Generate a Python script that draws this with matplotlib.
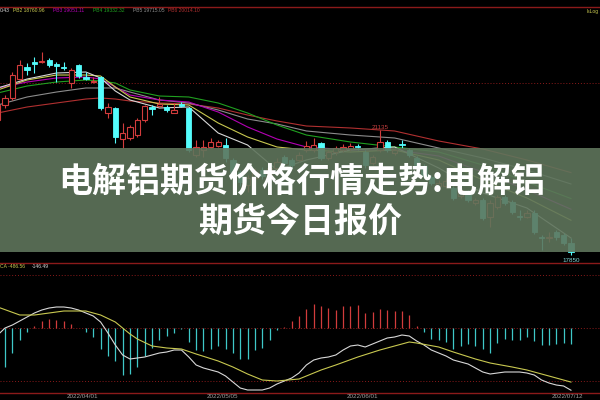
import matplotlib
matplotlib.use("Agg")
import matplotlib.pyplot as plt
from matplotlib.patches import Rectangle

# daily candles (index 0 is partly cut off at the left edge)
opens = [21400, 21790, 21980, 22480, 22790, 22920, 22920, 22980, 22870, 22790,
         22370, 22840, 22530, 22400, 22530, 21580, 21710, 20900, 20920, 21000,
         21400, 21740, 21770, 21740, 21580, 21820, 21710, 20480, 20610, 20690,
         20710, 20740, 20350, 20030, 19690, 19870, 20080, 19930, 20140, 20430,
         20350, 20350, 20610, 20610, 20790, 20400, 20560, 20610, 20640, 20710,
         20560, 20270, 20610, 20820, 20530, 20770, 20610, 20400, 20190, 19900,
         19660, 19660, 19610, 19400, 19500, 19220, 19290, 18850, 19110, 19370,
         19240, 18870, 18850, 18950, 18320, 18300, 18450, 18370, 18160]
highs = [21920, 22055, 22660, 22980, 22900, 23055, 23190, 23030, 22920, 22920,
         22770, 22870, 22660, 22530, 22550, 21850, 21740, 21320, 21270, 21450,
         21790, 21790, 22000, 21790, 21850, 21870, 21740, 20870, 20870, 20930,
         20870, 20930, 20400, 20080, 19950, 20140, 20160, 20190, 20400, 20480,
         20400, 20560, 20850, 20930, 20820, 20610, 20710, 20770, 20790, 20770,
         20610, 20480, 21135, 20870, 20660, 20870, 20660, 20450, 20240, 19950,
         19820, 19870, 19660, 19610, 19560, 19350, 19350, 19290, 19430, 19430,
         19290, 19030, 19030, 19030, 18370, 18450, 18500, 18430, 18300]
lows = [21270, 21710, 21920, 22450, 22580, 22630, 22900, 22790, 22400, 22710,
        22240, 22500, 22450, 22370, 21660, 21450, 20790, 20660, 20870, 20950,
        21350, 21530, 21740, 21610, 21580, 21740, 20560, 20430, 20430, 20660,
        20690, 20290, 19930, 19660, 19500, 19770, 19850, 19870, 20080, 20190,
        20140, 20290, 20560, 20560, 20350, 20350, 20480, 20560, 20580, 20610,
        20140, 20210, 20560, 20560, 20480, 20660, 20430, 20160, 19870, 19690,
        19560, 19610, 19290, 19350, 19240, 19160, 18770, 18580, 19060, 19160,
        18930, 18770, 18820, 18400, 17980, 18190, 18240, 18110, 17850]
closes = [21790, 21980, 22580, 22840, 22710, 22870, 22950, 22840, 22820, 22770,
          22710, 22550, 22480, 22420, 21710, 21740, 20950, 21060, 21210, 21400,
          21770, 21690, 21820, 21660, 21660, 21770, 20610, 20690, 20690, 20820,
          20820, 20400, 20030, 19770, 19870, 20030, 19930, 20140, 20290, 20270,
          20210, 20480, 20710, 20740, 20400, 20560, 20660, 20690, 20710, 20690,
          20210, 20430, 20820, 20610, 20610, 20740, 20480, 20210, 19930, 19740,
          19740, 19790, 19350, 19560, 19290, 19290, 18820, 19220, 19370, 19220,
          18980, 18850, 18950, 18450, 18300, 18320, 18320, 18160, 17930]

# waterfall lines read at a few bars
pb_idx = [0, 4, 8, 12, 14, 16, 18, 22, 26, 30, 34, 38, 42, 48, 54, 60, 66, 72, 78]
pb1 = [22240, 22476, 22634, 22660, 22503, 22161, 21924, 21713, 21740, 21056,
       20740, 20083, 20346, 20609, 20688, 20136, 19478, 19084, 18295]
pb2 = [22187, 22450, 22581, 22581, 22555, 22266, 22003, 21819, 21792, 21319,
       20951, 20688, 20609, 20556, 20609, 20346, 19820, 19347, 18761]
pb3 = [22240, 22397, 22503, 22529, 22476, 22266, 22055, 21924, 21871, 21608,
       21214, 20898, 20688, 20609, 20609, 20451, 20030, 19557, 19051]
pb4 = [22108, 22292, 22397, 22450, 22424, 22371, 22187, 22029, 22003, 21845,
       21582, 21266, 21003, 20819, 20688, 20556, 20214, 19767, 19332]
pb5 = [21792, 22003, 22134, 22240, 22240, 22240, 22134, 21924, 21845, 21661,
       21424, 21293, 21109, 21003, 20925, 20661, 20399, 20083, 19715]
pb6 = [21582, 21740, 21845, 21950, 21977, 21950, 21898, 21845, 21819, 21713,
       21529, 21372, 21240, 21188, 21109, 20846, 20635, 20346, 20014]

# MACD
macd_hist = [-460, -351, -225, -108, -36, 18, 63, 81, 72, 63,
             36, 0, -36, -81, -189, -252, -297, -423, -414, -351,
             -252, -180, -108, -72, -45, -9, -126, -198, -207, -189,
             -162, -189, -225, -279, -279, -198, -180, -108, -18, 9,
             63, 108, 171, 216, 198, 180, 162, 198, 198, 207,
             135, 144, 171, 162, 153, 153, 117, 18, -36, -99,
             -108, -126, -189, -162, -144, -162, -189, -225, -135, -99,
             -108, -108, -81, -117, -153, -153, -144, -135, -146.49]
dif = [-63, 0, 27, 63, 99, 135, 162, 180, 189, 189,
       180, 162, 135, 108, 54, -45, -153, -243, -279, -270,
       -261, -243, -225, -216, -198, -198, -261, -333, -360, -378,
       -396, -432, -486, -540, -558, -558, -558, -540, -504, -477,
       -450, -405, -333, -288, -270, -261, -243, -198, -162, -153,
       -171, -144, -117, -90, -81, -63, -72, -117, -153, -198,
       -225, -252, -288, -306, -324, -360, -396, -414, -405, -396,
       -396, -396, -405, -423, -468, -495, -513, -522, -560]
dea_idx = [0, 3, 5, 7, 9, 12, 14, 16, 18, 19, 21, 23, 25, 27, 30, 32, 34, 36,
           38, 41, 44, 46, 49, 52, 54, 56, 57, 60, 62, 65, 67, 70, 72, 75, 78]
dea = [189, 117, 117, 135, 153, 153, 117, 54, -54, -99, -162, -180, -189, -234,
       -297, -351, -414, -468, -477, -459, -378, -333, -261, -198, -162, -126,
       -135, -171, -216, -279, -315, -351, -378, -432, -486.56]

date_idx = [11, 30, 49, 77]
date_labels = ["2022/04/01", "2022/05/05", "2022/06/01", "2022/07/12"]

title_lines = ["电解铝期货价格行情走势:电解铝", "期货今日报价"]

up_col = "#d23c3c"
dn_col = "#54fcfc"
frame_col = "#8b1a1a"
pb_cols = ["#d8d8d8", "#c8c850", "#b400b4", "#20a020", "#8c8c8c", "#b03030"]

fig = plt.figure(figsize=(6, 4), dpi=100, facecolor="black")
ax = fig.add_axes([0, 0.345, 1, 0.6375], facecolor="black")
ax2 = fig.add_axes([0, 0.0175, 1, 0.325], facecolor="black")

n = len(opens)
xs = list(range(n))

for i in xs:
    o, h, l, c = opens[i], highs[i], lows[i], closes[i]
    col = up_col if c >= o else dn_col
    ax.vlines(i, l, h, color=col, linewidth=0.8, zorder=2)
    if c >= o:
        ax.bar(i, max(c - o, 8), bottom=o, width=0.72, facecolor="black",
               edgecolor=col, linewidth=0.8, zorder=3)
    else:
        ax.bar(i, max(o - c, 8), bottom=c, width=0.72, facecolor=col,
               edgecolor=col, linewidth=0.6, zorder=3)

for vals, col in zip([pb6, pb5, pb4, pb3, pb2, pb1], pb_cols[::-1]):
    ax.plot(pb_idx, vals, color=col, linewidth=0.8, zorder=1)

ax.axhline(22371, color=frame_col, linewidth=0.7, linestyle=(0, (1, 2)), zorder=0)

ax.annotate("21135", (52, 21135), xytext=(0, 2), textcoords="offset points",
            ha="center", va="center", fontsize=4.5, color="#c84040",
            family="Liberation Sans")
ax.annotate("17850", (78, 17850), xytext=(0, -2), textcoords="offset points",
            ha="center", va="top", fontsize=4.5, color="#7fd8d8",
            family="Liberation Sans")

ax.set_xlim(0.313, 81.95)
ax.set_ylim(17663, 24370)
ax.set_xticks([])
ax.set_yticks([])
for side in ["left", "right", "bottom"]:
    ax.spines[side].set_visible(False)
ax.spines["top"].set_color(frame_col)
ax.spines["top"].set_linewidth(1)

# MACD panel
for i in xs:
    v = macd_hist[i]
    ax2.vlines(i, 0, v, color=up_col if v > 0 else "#3fc8c8", linewidth=0.9)
ax2.plot(xs, dif, color="#d8d8d8", linewidth=0.8)
ax2.plot(dea_idx, dea, color="#c8c850", linewidth=0.8)
for yv in [480, 0, -480]:
    ax2.axhline(yv, color=frame_col, linewidth=0.7, linestyle=(0, (1, 2)), zorder=0)

ax2.set_xlim(0.313, 81.95)
ax2.set_ylim(-585, 585)
ax2.set_xticks([])
ax2.set_yticks([])
for side in ["left", "right"]:
    ax2.spines[side].set_visible(False)
for side in ["top", "bottom"]:
    ax2.spines[side].set_color(frame_col)
    ax2.spines[side].set_linewidth(1)

for k, lab in zip(date_idx, date_labels):
    ax2.annotate(lab, (k, 0), xycoords=ax2.get_xaxis_transform(),
                 xytext=(3, -1), textcoords="offset points", ha="center",
                 va="top", fontsize=4.5, color="#a0a0a0",
                 family="Liberation Sans", annotation_clip=False)

# indicator legends
fs = 3.6
fig.text(0 / 600, 1 - 11 / 400, "0.43", color="#d8d8d8", fontsize=fs,
         va="center", family="Liberation Sans")
legend_x = [13, 53, 93, 133, 168]
legend_txt = ["PB2 18760.96", "PB3 19051.11", "PB4 19332.32", "PB5 19715.05", "PB6 20014.10"]
for xp, t, col in zip(legend_x, legend_txt, pb_cols[1:]):
    fig.text(xp / 600, 1 - 11 / 400, t, color=col, fontsize=fs, va="center",
             family="Liberation Sans")
fig.text(587 / 600, 1 - 11 / 400, "lsLog", color="#c8c850", fontsize=fs,
         va="center", family="Liberation Sans")
fig.text(0, 1 - 267 / 400, "CA -486.56", color="#c8c850", fontsize=fs,
         va="center", family="Liberation Sans")
fig.text(32 / 600, 1 - 267 / 400, "-146.49", color="#d8d8d8", fontsize=fs,
         va="center", family="Liberation Sans")

# title banner
fig.patches.append(Rectangle((0, 148 / 400), 1, 104 / 400, transform=fig.transFigure,
                             facecolor="#5f755c", alpha=0.9, edgecolor="none",
                             zorder=5))
fig.text(0.503, 1 - 181 / 400, title_lines[0], color="white", fontsize=24.5,
         fontweight="bold", ha="center", va="center",
         family=["Noto Sans CJK SC", "DejaVu Sans"], zorder=6)
fig.text(0.5, 1 - 221 / 400, title_lines[1], color="white", fontsize=24.5,
         fontweight="bold", ha="center", va="center",
         family=["Noto Sans CJK SC", "DejaVu Sans"], zorder=6)

fig.savefig("out.png", dpi=100, facecolor="black")
